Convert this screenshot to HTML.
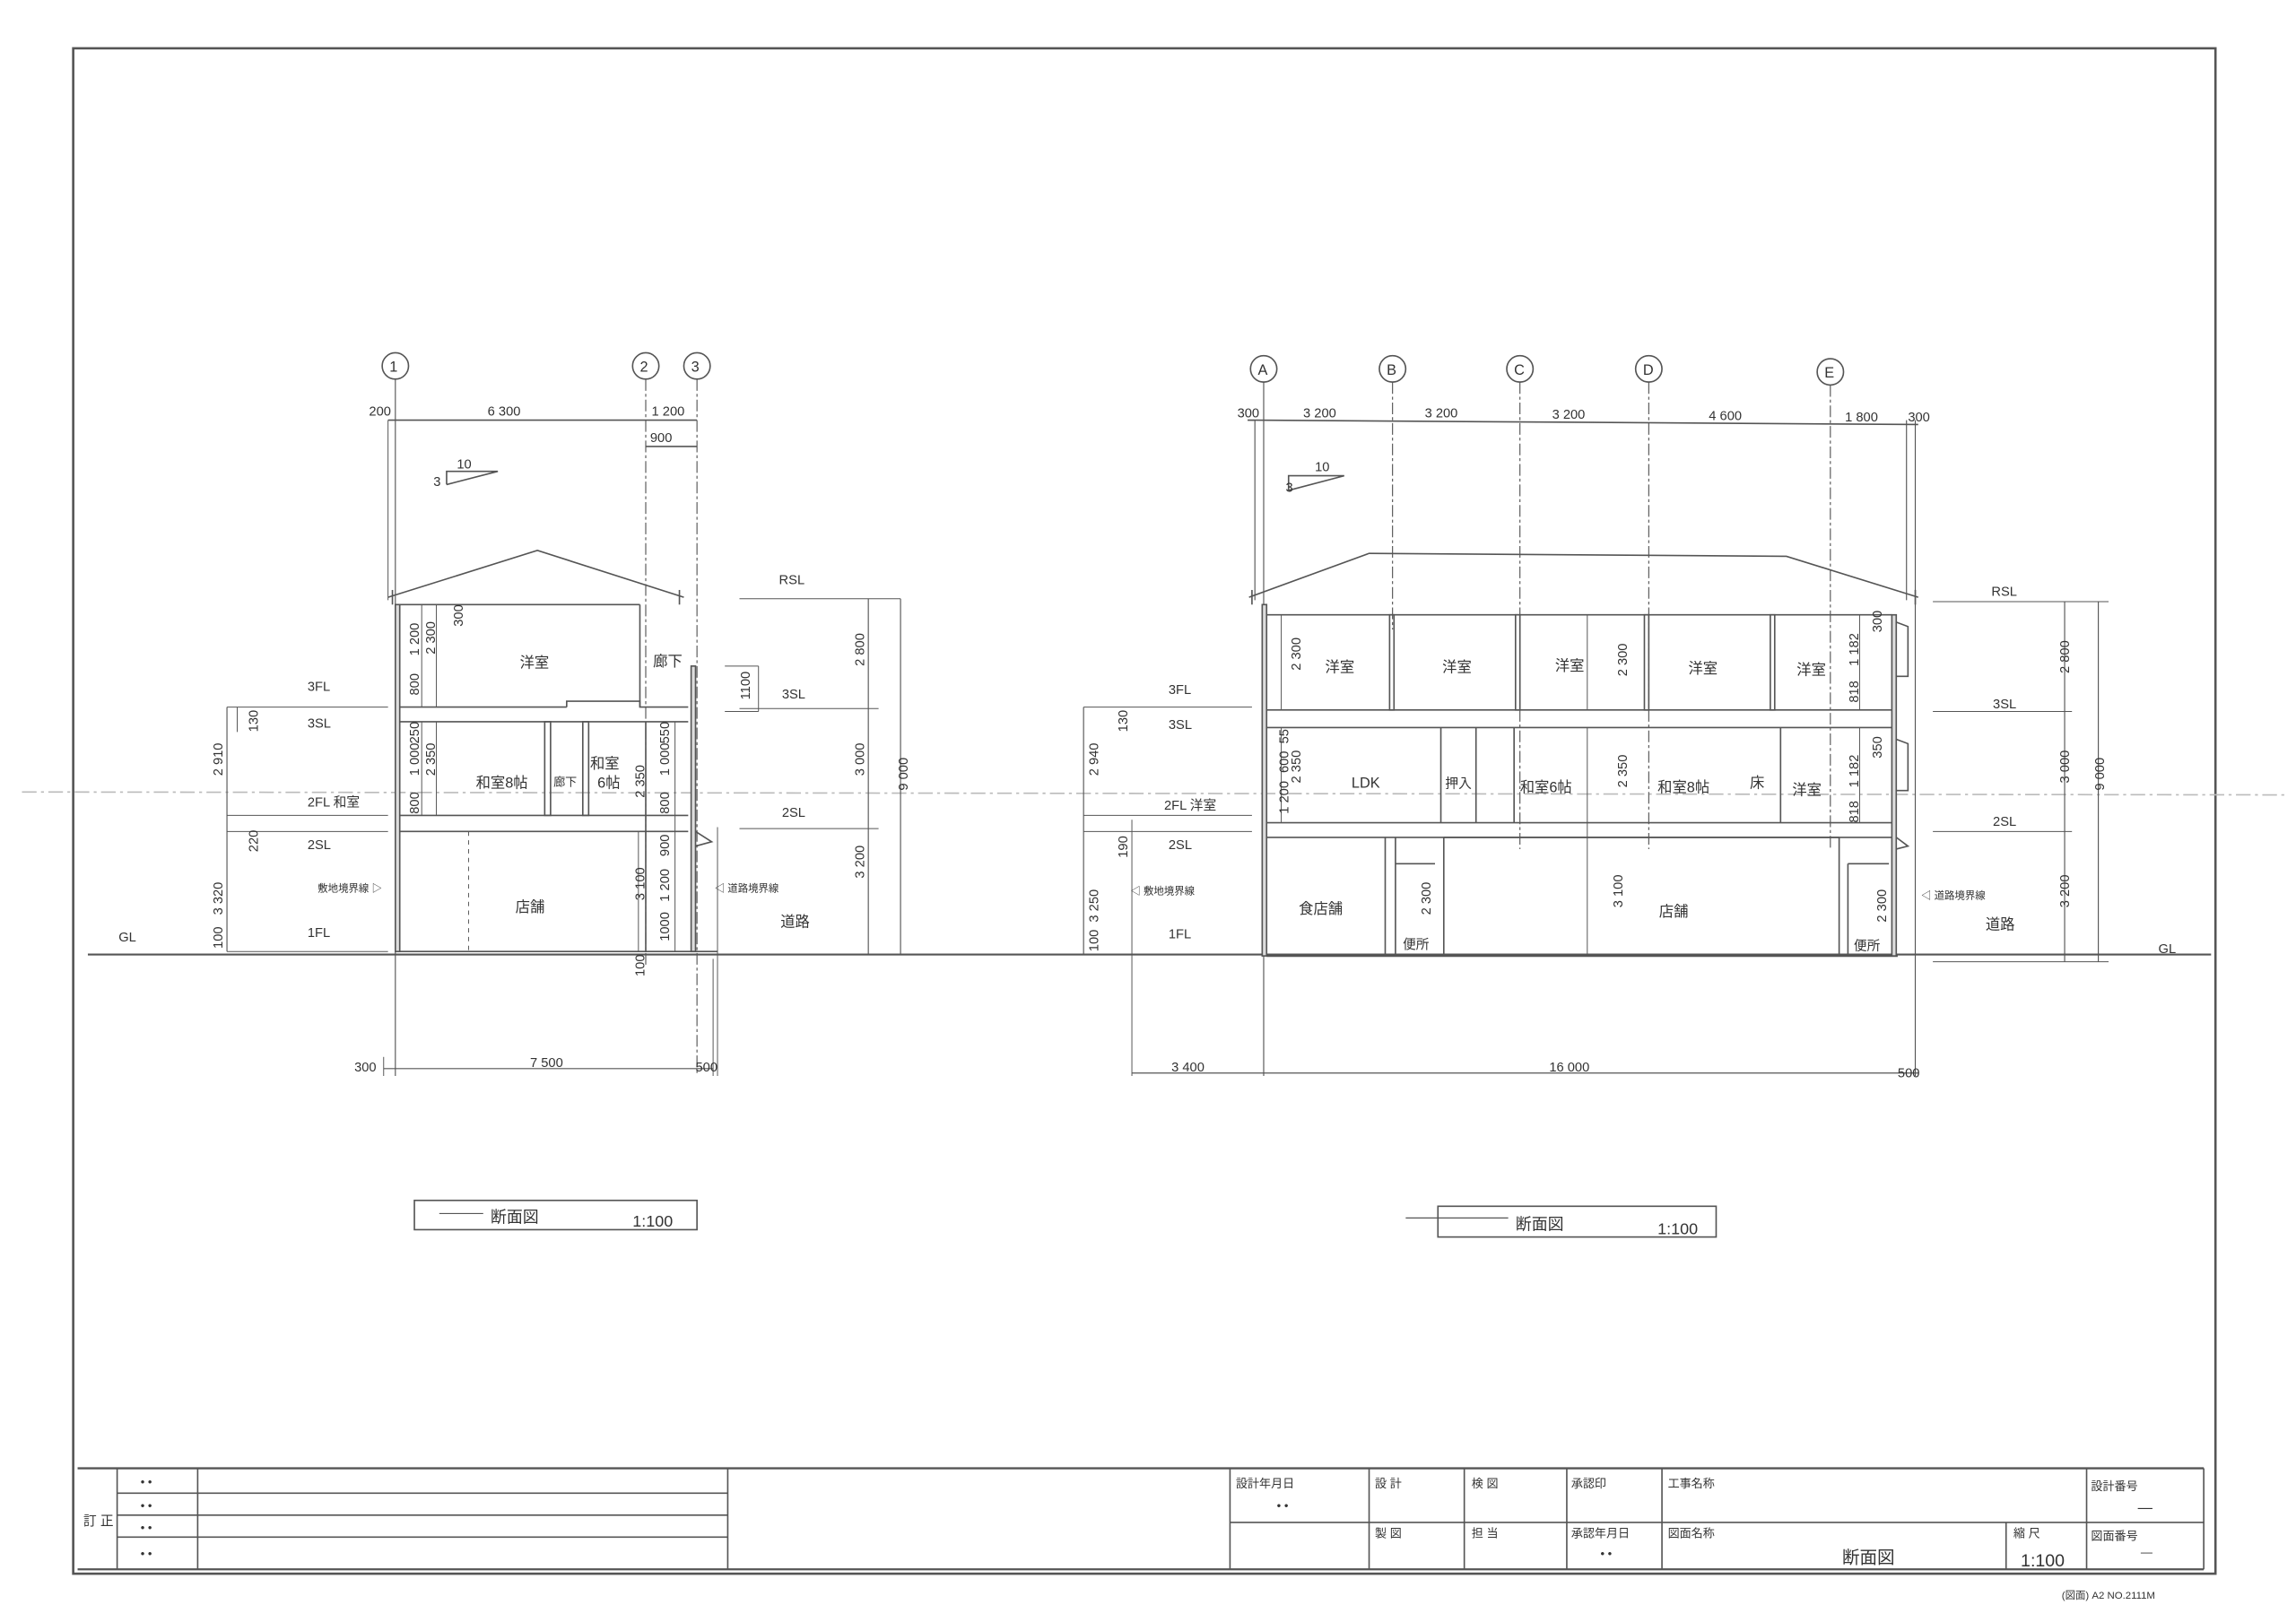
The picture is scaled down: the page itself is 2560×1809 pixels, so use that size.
<!DOCTYPE html>
<html><head><meta charset="utf-8"><style>
html,body{margin:0;padding:0;background:#fff;}
svg{display:block;}
text{font-family:"Liberation Sans","Noto Sans CJK JP",sans-serif;fill:#333;}
</style></head><body>
<svg width="2560" height="1809" viewBox="0 0 1568 1108" preserveAspectRatio="none" xmlns="http://www.w3.org/2000/svg">
<rect width="1568" height="1108" fill="#fff"/>
<g fill="none" stroke="#555" stroke-width="1">
<!-- border -->
<rect x="50" y="33" width="1463" height="1042" stroke-width="1.6"/>
<!-- title block -->
<line x1="53" y1="1003" x2="1505" y2="1003" stroke-width="1.4"/>
<line x1="1505" y1="1003" x2="1505" y2="1072"/>
<line x1="53" y1="1072" x2="1505" y2="1072" stroke-width="1.4"/>
<line x1="80" y1="1003" x2="80" y2="1072"/>
<line x1="135" y1="1003" x2="135" y2="1072"/>
<line x1="497" y1="1003" x2="497" y2="1072"/>
<line x1="80" y1="1020" x2="497" y2="1020"/>
<line x1="80" y1="1035" x2="497" y2="1035"/>
<line x1="80" y1="1050" x2="497" y2="1050"/>
<line x1="840" y1="1003" x2="840" y2="1072"/>
<line x1="935" y1="1003" x2="935" y2="1072"/>
<line x1="1000" y1="1003" x2="1000" y2="1072"/>
<line x1="1070" y1="1003" x2="1070" y2="1072"/>
<line x1="1135" y1="1003" x2="1135" y2="1072"/>
<line x1="1370" y1="1040" x2="1370" y2="1072"/>
<line x1="1425" y1="1003" x2="1425" y2="1072"/>
<line x1="840" y1="1040" x2="1505" y2="1040"/>
<!-- ground line -->
<line x1="60" y1="652" x2="1510" y2="652" stroke-width="1.3"/>
<line x1="15" y1="541" x2="1560" y2="543" stroke="#bbb" stroke-dasharray="10 3 2 3"/>
</g>

<!-- LEFT SECTION -->
<g fill="none" stroke="#555" stroke-width="1">
<circle cx="270" cy="250" r="9"/><circle cx="441" cy="250" r="9"/><circle cx="476" cy="250" r="9"/>
<line x1="270" y1="259" x2="270" y2="735" stroke-width=".7"/>
<line x1="441" y1="259" x2="441" y2="660" stroke-width=".7" stroke-dasharray="8 2 2 2"/>
<line x1="476" y1="259" x2="476" y2="735" stroke-width=".7" stroke-dasharray="8 2 2 2"/>
<line x1="265" y1="287" x2="476" y2="287"/>
<line x1="265" y1="287" x2="265" y2="410" stroke-width=".6"/>
<line x1="441" y1="305" x2="476" y2="305"/>
<polyline points="265,408 367,376 467,408"/>
<line x1="268" y1="403" x2="268" y2="413"/>
<line x1="464" y1="403" x2="464" y2="413"/>
<!-- walls -->
<rect x="270" y="413" width="3" height="237" fill="#ddd"/>
<rect x="472" y="455" width="3" height="195" fill="#ddd"/>
<line x1="273" y1="413" x2="437" y2="413"/>
<line x1="437" y1="413" x2="437" y2="483"/>
<line x1="273" y1="483" x2="387" y2="483"/><polyline points="387,483 387,479 437,479 437,483 470,483"/>
<line x1="273" y1="493" x2="470" y2="493"/>
<line x1="273" y1="557" x2="470" y2="557"/>
<line x1="273" y1="568" x2="470" y2="568"/>
<line x1="273" y1="650" x2="490" y2="650"/>
<rect x="372" y="493" width="4" height="64"/><rect x="398" y="493" width="4" height="64"/>
<line x1="441" y1="493" x2="441" y2="650"/>
<line x1="461" y1="493" x2="461" y2="650" stroke-width=".6"/>
<line x1="288" y1="413" x2="288" y2="483" stroke-width=".6"/>
<line x1="298" y1="413" x2="298" y2="483" stroke-width=".6"/>
<line x1="288" y1="493" x2="288" y2="557" stroke-width=".6"/>
<line x1="298" y1="493" x2="298" y2="557" stroke-width=".6"/>
<line x1="436" y1="568" x2="436" y2="650" stroke-width=".6"/>
<line x1="320" y1="568" x2="320" y2="650" stroke-width=".6" stroke-dasharray="3 3"/>
<polyline points="475,568 486,575 475,578"/>
<!-- left level dims -->
<line x1="155" y1="483" x2="265" y2="483" stroke-width=".6"/>
<line x1="155" y1="557" x2="265" y2="557" stroke-width=".6"/>
<line x1="155" y1="568" x2="265" y2="568" stroke-width=".6"/>
<line x1="155" y1="650" x2="265" y2="650" stroke-width=".6"/>
<line x1="155" y1="483" x2="155" y2="650" stroke-width=".7"/>
<line x1="162" y1="483" x2="162" y2="500" stroke-width=".6"/>
<!-- right level dims -->
<line x1="505" y1="409" x2="615" y2="409" stroke-width=".6"/>
<line x1="505" y1="484" x2="600" y2="484" stroke-width=".6"/>
<line x1="505" y1="566" x2="600" y2="566" stroke-width=".6"/>
<line x1="593" y1="409" x2="593" y2="652" stroke-width=".7"/>
<line x1="615" y1="409" x2="615" y2="652" stroke-width=".7"/>
<line x1="495" y1="455" x2="518" y2="455" stroke-width=".6"/>
<line x1="495" y1="486" x2="518" y2="486" stroke-width=".6"/>
<line x1="518" y1="455" x2="518" y2="486" stroke-width=".6"/>
<line x1="490" y1="565" x2="490" y2="735" stroke-width=".6"/>
<!-- bottom dims -->
<line x1="262" y1="730" x2="487" y2="730" stroke-width=".7"/>
<line x1="262" y1="722" x2="262" y2="735" stroke-width=".6"/>
<line x1="487" y1="655" x2="487" y2="735" stroke-width=".6"/>
<!-- slope -->
<polyline points="305,331 305,322 340,322 305,331"/>
<!-- title -->
<rect x="283" y="820" width="193" height="20"/>
<line x1="300" y1="829" x2="330" y2="829" stroke-width=".7"/>
</g>
<g font-size="9">
<text x="266" y="254" font-size="10">1</text><text x="437" y="254" font-size="10">2</text><text x="472" y="254" font-size="10">3</text>
<text x="252" y="284">200</text><text x="333" y="284">6 300</text><text x="445" y="284">1 200</text><text x="444" y="302">900</text>
<text x="312" y="320">10</text><text x="296" y="332">3</text>
<text x="355" y="456" font-size="10">洋室</text>
<text x="446" y="455" font-size="10">廊下</text>
<text x="325" y="538" font-size="10">和室8帖</text>
<text x="378" y="537" font-size="8">廊下</text>
<text x="403" y="525" font-size="10">和室</text><text x="408" y="538" font-size="10">6帖</text>
<text x="352" y="623" font-size="10">店舗</text>
<text x="533" y="633" font-size="10">道路</text>
<text x="217" y="609" font-size="7">敷地境界線 ▷</text>
<text x="488" y="609" font-size="7">◁ 道路境界線</text>
<text x="532" y="399">RSL</text><text x="534" y="477">3SL</text><text x="534" y="558">2SL</text>
<text x="210" y="472">3FL</text><text x="210" y="497">3SL</text><text x="210" y="551">2FL 和室</text><text x="210" y="580">2SL</text><text x="210" y="640">1FL</text>
<text x="81" y="643">GL</text>
<text x="242" y="732">300</text><text x="362" y="729">7 500</text><text x="475" y="732">500</text>
<text x="335" y="835" font-size="11">断面図</text><text x="432" y="838" font-size="11">1:100</text>
<g transform="rotate(-90)">
<text x="-600" y="590">3 200</text><text x="-530" y="590">3 000</text><text x="-455" y="590">2 800</text><text x="-540" y="620">9 000</text>
<text x="-530" y="152">2 910</text><text x="-625" y="152">3 320</text><text x="-500" y="176">130</text><text x="-582" y="176">220</text><text x="-648" y="152">100</text>
<text x="-447" y="297">2 300</text><text x="-448" y="286">1 200</text><text x="-428" y="316">300</text><text x="-475" y="286">800</text>
<text x="-530" y="297">2 350</text><text x="-530" y="286">1 000</text><text x="-508" y="286">250</text><text x="-556" y="286">800</text>
<text x="-545" y="440">2 350</text><text x="-530" y="457">1 000</text><text x="-508" y="457">550</text><text x="-556" y="457">800</text>
<text x="-615" y="440">3 100</text><text x="-616" y="457">1 200</text><text x="-585" y="457">900</text><text x="-643" y="457">1000</text><text x="-667" y="440">100</text>
<text x="-478" y="512">1100</text>
</g>
</g>

<!-- RIGHT SECTION -->
<g fill="none" stroke="#555" stroke-width="1">
<circle cx="863" cy="252" r="9"/><circle cx="951" cy="252" r="9"/><circle cx="1038" cy="252" r="9"/><circle cx="1126" cy="252" r="9"/><circle cx="1250" cy="254" r="9"/>
<g stroke-width=".7">
<line x1="863" y1="261" x2="863" y2="735"/><line x1="951" y1="261" x2="951" y2="430" stroke-dasharray="8 2 2 2"/><line x1="1038" y1="261" x2="1038" y2="580" stroke-dasharray="8 2 2 2"/><line x1="1126" y1="261" x2="1126" y2="580" stroke-dasharray="8 2 2 2"/><line x1="1250" y1="263" x2="1250" y2="580" stroke-dasharray="8 2 2 2"/>
<line x1="857" y1="287" x2="857" y2="410"/><line x1="1302" y1="287" x2="1302" y2="410"/><line x1="1308" y1="287" x2="1308" y2="735"/>
</g>
<line x1="852" y1="287" x2="1310" y2="290"/>
<polyline points="853,408 935,378 1220,380 1310,408"/>
<line x1="855" y1="403" x2="855" y2="413"/><line x1="1308" y1="403" x2="1308" y2="413"/>
<rect x="862" y="413" width="3" height="240" fill="#ddd"/>
<line x1="865" y1="420" x2="1292" y2="420"/>
<line x1="865" y1="485" x2="1292" y2="485"/>
<line x1="865" y1="497" x2="1292" y2="497"/>
<line x1="865" y1="562" x2="1292" y2="562"/>
<line x1="865" y1="572" x2="1292" y2="572"/>
<line x1="865" y1="653" x2="1296" y2="653" stroke-width="1.3"/>
<rect x="949" y="420" width="3" height="65"/><rect x="1035" y="420" width="3" height="65"/><rect x="1123" y="420" width="3" height="65"/><rect x="1209" y="420" width="3" height="65"/>
<rect x="1292" y="420" width="3" height="233" fill="#ddd"/>
<polyline points="1295,425 1303,428 1303,462 1295,462"/>
<polyline points="1295,505 1303,508 1303,540 1295,540"/>
<polyline points="1295,572 1303,578 1295,580"/>
<line x1="984" y1="497" x2="984" y2="562"/><line x1="1008" y1="497" x2="1008" y2="562"/><line x1="1034" y1="497" x2="1034" y2="562"/><line x1="1216" y1="497" x2="1216" y2="562"/>
<line x1="946" y1="572" x2="946" y2="653"/><line x1="953" y1="572" x2="953" y2="653"/><line x1="986" y1="572" x2="986" y2="653"/>
<line x1="953" y1="590" x2="980" y2="590"/>
<line x1="986" y1="572" x2="1256" y2="572"/><line x1="1256" y1="572" x2="1256" y2="653"/>
<line x1="1262" y1="590" x2="1290" y2="590"/><line x1="1262" y1="590" x2="1262" y2="653"/>
<line x1="875" y1="420" x2="875" y2="485" stroke-width=".6"/><line x1="875" y1="497" x2="875" y2="562" stroke-width=".6"/>
<line x1="1084" y1="420" x2="1084" y2="485" stroke-width=".6"/><line x1="1084" y1="497" x2="1084" y2="653" stroke-width=".6"/>
<line x1="1270" y1="420" x2="1270" y2="485" stroke-width=".6"/><line x1="1270" y1="497" x2="1270" y2="562" stroke-width=".6"/>
<!-- left level dims -->
<line x1="740" y1="483" x2="855" y2="483" stroke-width=".6"/><line x1="740" y1="557" x2="855" y2="557" stroke-width=".6"/><line x1="740" y1="568" x2="855" y2="568" stroke-width=".6"/><line x1="740" y1="652" x2="855" y2="652" stroke-width=".6"/>
<line x1="740" y1="483" x2="740" y2="652" stroke-width=".7"/><line x1="773" y1="560" x2="773" y2="735" stroke-width=".6"/>
<!-- right level dims -->
<line x1="1320" y1="411" x2="1440" y2="411" stroke-width=".6"/><line x1="1320" y1="486" x2="1415" y2="486" stroke-width=".6"/><line x1="1320" y1="568" x2="1415" y2="568" stroke-width=".6"/><line x1="1320" y1="657" x2="1440" y2="657" stroke-width=".6"/>
<line x1="1410" y1="411" x2="1410" y2="657" stroke-width=".7"/><line x1="1433" y1="411" x2="1433" y2="657" stroke-width=".7"/>
<line x1="773" y1="733" x2="1310" y2="733" stroke-width=".7"/>
<polyline points="880,335 880,325 918,325 880,335"/>
<rect x="982" y="824" width="190" height="21"/>
<line x1="960" y1="832" x2="1030" y2="832" stroke-width=".7"/>
</g>
<g font-size="9">
<text x="859" y="256" font-size="10">A</text><text x="947" y="256" font-size="10">B</text><text x="1034" y="256" font-size="10">C</text><text x="1122" y="256" font-size="10">D</text><text x="1246" y="258" font-size="10">E</text>
<text x="845" y="285">300</text><text x="890" y="285">3 200</text><text x="973" y="285">3 200</text><text x="1060" y="286">3 200</text><text x="1167" y="287">4 600</text><text x="1260" y="288">1 800</text><text x="1303" y="288">300</text>
<text x="898" y="322">10</text><text x="878" y="336">3</text>
<text x="905" y="459" font-size="10">洋室</text><text x="985" y="459" font-size="10" fill="#888">洋室</text><text x="1062" y="458" font-size="10">洋室</text><text x="1153" y="460" font-size="10">洋室</text><text x="1227" y="461" font-size="10" fill="#888">洋室</text>
<text x="923" y="538" font-size="10">LDK</text><text x="987" y="538" font-size="9">押入</text><text x="1038" y="541" font-size="10">和室6帖</text><text x="1132" y="541" font-size="10">和室8帖</text><text x="1195" y="538" font-size="10">床</text><text x="1224" y="543" font-size="10">洋室</text>
<text x="887" y="624" font-size="10">食店舗</text><text x="1133" y="626" font-size="10">店舗</text><text x="958" y="648" font-size="9">便所</text><text x="1266" y="649" font-size="9">便所</text>
<text x="1356" y="635" font-size="10">道路</text>
<text x="772" y="611" font-size="7">◁ 敷地境界線</text><text x="1312" y="614" font-size="7">◁ 道路境界線</text>
<text x="1360" y="407">RSL</text><text x="1361" y="484">3SL</text><text x="1361" y="564">2SL</text><text x="1474" y="651">GL</text>
<text x="798" y="474">3FL</text><text x="798" y="498">3SL</text><text x="795" y="553">2FL 洋室</text><text x="798" y="580">2SL</text><text x="798" y="641">1FL</text>
<text x="800" y="732">3 400</text><text x="1058" y="732">16 000</text><text x="1296" y="736">500</text>
<text x="1035" y="840" font-size="11">断面図</text><text x="1132" y="843" font-size="11">1:100</text>
<g transform="rotate(-90)">
<text x="-458" y="888">2 300</text><text x="-462" y="1111">2 300</text><text x="-535" y="888">2 350</text><text x="-538" y="1111">2 350</text>
<text x="-528" y="880">600</text><text x="-508" y="880">55</text><text x="-556" y="880">1 200</text>
<text x="-455" y="1269">1 182</text><text x="-480" y="1269">818</text><text x="-432" y="1285">300</text>
<text x="-538" y="1269">1 182</text><text x="-562" y="1269">818</text><text x="-518" y="1285">350</text>
<text x="-620" y="1108">3 100</text><text x="-625" y="977">2 300</text><text x="-630" y="1288">2 300</text>
<text x="-530" y="750">2 940</text><text x="-630" y="750">3 250</text><text x="-500" y="770">130</text><text x="-586" y="770">190</text><text x="-650" y="750">100</text>
<text x="-620" y="1413">3 200</text><text x="-535" y="1413">3 000</text><text x="-460" y="1413">2 800</text><text x="-540" y="1437">9 000</text>
</g>
</g>

<!-- title block text -->
<g font-size="8" fill="#555">
<text x="57" y="1042" font-size="9">訂 正</text>
<text x="96" y="1015">• •</text><text x="96" y="1031">• •</text><text x="96" y="1046">• •</text><text x="96" y="1064">• •</text>
<text x="844" y="1016">設計年月日</text><text x="939" y="1016">設 計</text><text x="1005" y="1016">検 図</text><text x="1073" y="1016">承認印</text><text x="1139" y="1016">工事名称</text><text x="1428" y="1018">設計番号</text>
<text x="939" y="1050">製 図</text><text x="1005" y="1050">担 当</text><text x="1073" y="1050">承認年月日</text><text x="1139" y="1050">図面名称</text><text x="1375" y="1050">縮 尺</text><text x="1428" y="1052">図面番号</text>
<text x="872" y="1031">• •</text><text x="1093" y="1064">• •</text>
<text x="1258" y="1068" font-size="12" fill="#333">断面図</text><text x="1380" y="1070" font-size="12" fill="#333">1:100</text>
<text x="1460" y="1033" font-size="10">—</text><text x="1462" y="1063" font-size="8">—</text>
<text x="1408" y="1092" font-size="7" fill="#888">(図面) A2 NO.2111M</text>
</g>
</svg>
</body></html>
